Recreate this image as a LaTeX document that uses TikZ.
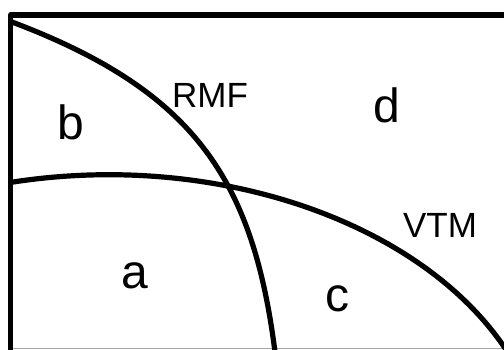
\documentclass[tikz,border=0pt]{standalone}
\usepackage{fontspec}
\setmainfont{Liberation Sans}
\begin{document}
\begin{tikzpicture}[x=1pt,y=-1pt,
  edge/.style={line width=5.2pt, line join=round, line cap=round},
  big/.style={font=\fontsize{48}{48}\selectfont, inner sep=0pt, anchor=base},
  lbl/.style={font=\fontsize{35}{35}\selectfont, inner sep=0pt, anchor=base}]
\useasboundingbox (0,0) rectangle (504,350);
\fill[white] (0,0) rectangle (504,350);
\draw[gray!70, line width=1.2pt] (10.5,348.5) -- (504,348.5);
\draw[edge, line cap=butt] (10.5,352) -- (10.5,15) -- (506,15);
% RMF curve
\draw[edge] (12,22) .. controls (193,90.4) and (252.9,178) .. (275,352);
% VTM curve
\draw[edge] (12,182.2) arc[start angle=-102.8, end angle=-24, x radius=437, y radius=300];
\node[big] (b) at (71,140) {b};
\node[lbl] (rmf) at (210,108) {RMF};
\node[big] (d) at (387,123) {d};
\node[big] (a) at (134.5,288) {a};
\node[big] (c) at (337,312) {c};
\node[lbl] (vtm) at (440,238) {VTM};
\end{tikzpicture}
\end{document}
